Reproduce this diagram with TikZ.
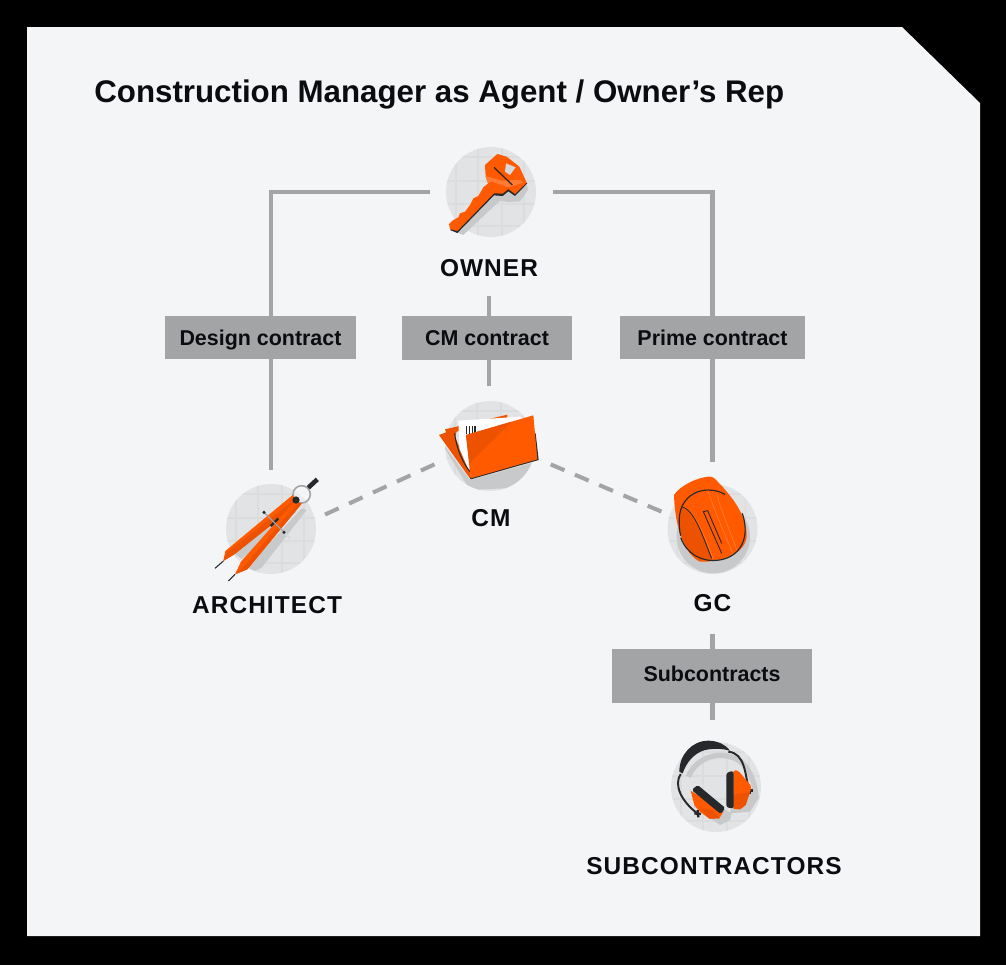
\documentclass[tikz,border=0pt]{standalone}
\usepackage{fontspec}
\setmainfont{Liberation Sans}
\newfontfamily\partyfont[LetterSpace=4.5]{Liberation Sans}
\definecolor{panel}{HTML}{F4F5F7}
\definecolor{ink}{HTML}{0B0C10}
\definecolor{wire}{HTML}{A3A4A6}
\definecolor{discfill}{HTML}{E2E3E5}
\definecolor{discgrid}{HTML}{DBDCDE}
\definecolor{castgray}{HTML}{C8C9CB}
\definecolor{safety}{HTML}{FF5A00}
\definecolor{safetydark}{HTML}{EC5200}
\definecolor{safetylight}{HTML}{FF7A33}
\definecolor{rim}{HTML}{26282B}
% disc with its faint grid, clipped to the circle
\newcommand{\griddisc}[1]{%
  \begin{scope}
    \clip (#1) circle (45);
    \foreach \dx in {-35,-13,11,33} \draw [discgrid,line width=.6pt] ([xshift=\dx*.02cm]#1.center) ++(0,-50) -- ++(0,100);
    \foreach \dy in {-35,-11,12,34} \draw [discgrid,line width=.6pt] ([yshift=-\dy*.02cm]#1.center) ++(-50,0) -- ++(100,0);
  \end{scope}}
\begin{document}
\begin{tikzpicture}[x=0.02cm,y=-0.02cm]
\tikzstyle{title}=[anchor=west,text=ink,inner sep=0pt,font=\fontsize{17.8}{20}\selectfont\bfseries];
\tikzstyle{party}=[text=ink,inner sep=0pt,outer sep=.38cm,font=\fontsize{13.9}{16}\selectfont\partyfont\bfseries];
\tikzstyle{contract}=[fill=wire,text=ink,inner sep=0pt,text height=8.7pt,text depth=0pt,font=\fontsize{12.2}{14}\selectfont\bfseries];
\tikzstyle{disc}=[circle,fill=discfill,minimum size=1.8cm,inner sep=0pt,outer sep=.22cm];
\tikzstyle{link}=[wire,line width=2.3pt];
\tikzstyle{agency}=[wire,line width=2.3pt,dash pattern=on 8.5pt off 6.5pt];
\useasboundingbox (0,0) rectangle (1006,965);
\fill [black] (0,0) rectangle (1006,965);
\fill [panel] (27,27) -- (902,27) -- (980,103) -- (980,936) -- (27,936) -- cycle;

\node [title] (heading) at (94,94) {Construction Manager as Agent / Owner’s Rep};

\node [disc] (owner) at (491,192) {};
\node [disc] (cm) at (490,446) {};
\node [disc] (architect) at (271,529) {};
\node [disc] (gc) at (712.5,529) {};
\node [disc] (subs) at (716,787) {};
\griddisc{owner}
\griddisc{cm}
\griddisc{architect}
\griddisc{gc}
\griddisc{subs}

\node [party] (ownerlabel) at (489,268) {OWNER};
\node [party] (cmlabel) at (491,518) {CM};
\node [party] (architectlabel) at (267,605) {ARCHITECT};
\node [party] (gclabel) at (712.5,603) {GC};
\node [party] (subslabel) at (714,866) {SUBCONTRACTORS};

\node [contract,minimum width=3.82cm,minimum height=.86cm] (design) at (260.5,337.5) {Design contract};
\node [contract,minimum width=3.4cm,minimum height=.88cm] (cmdeal) at (487,338) {CM contract};
\node [contract,minimum width=3.7cm,minimum height=.86cm] (prime) at (712.5,337.5) {Prime contract};
\node [contract,text depth=2.3pt,minimum width=4cm,minimum height=1.08cm] (subdeal) at (712,676) {Subcontracts};

\draw [link,shorten <=.1cm] (owner.west) -| (architect |- design.north);
\draw [link,shorten >=3*.02cm] (architect |- design.south) -- (architect.north);
\draw [link,shorten <=.12cm] (owner.east) -| (gc |- prime.north);
\draw [link,shorten >=.22cm] (gc |- prime.south) -- (gc.north);
\draw [link] (ownerlabel.south) -- (ownerlabel |- cmdeal.north);
\draw [link,shorten >=.08cm] (ownerlabel |- cmdeal.south) -- (ownerlabel |- cm.north);
\draw [link,shorten <=.06cm] (gclabel.south) -- (gclabel |- subdeal.north);
\draw [link,shorten >=.22cm] (gclabel |- subdeal.south) -- (gclabel |- subs.north);
\draw [agency] (architect.15.5) -- (cm.198);
\draw [agency,shorten <=.15cm,shorten >=-.08cm] (cm.-16) -- (gc.161);

% key
\begin{scope}[shift={(420,130)},scale=.3333]
\fill [castgray] (105,305) -- (130,315) -- (240,212) -- (265,216) -- (300,214) -- (325,178) -- (318,160) -- (230,190) -- cycle;
\fill [rim] (90,300) -- (112,309) -- (222,196) -- (248,198) -- (265,184) -- (285,198) -- (322,160) -- (300,150) -- (210,180) -- cycle;
\fill [safety] (87,282) -- (100,270) -- (115,262) -- (120,250) -- (135,245) -- (150,225) -- (160,205) -- (175,198) -- (190,172) -- (205,160) -- (197,140) -- (195,105) -- (232,72) -- (260,80) -- (298,110) -- (320,158) -- (285,192) -- (265,177) -- (248,191) -- (222,190) -- (112,303) -- (90,297) -- cycle;
\fill [safetylight] (197,138) -- (245,152) -- (302,150) -- (310,158) -- (265,172) -- (215,155) -- (203,160) -- cycle;
\fill [discfill!60!castgray] (258,100) -- (287,112) -- (270,135) -- (255,125) -- cycle;
\draw [rim,line width=.7pt] (222,112) -- (277,165);
\end{scope}

% folder
\begin{scope}[shift={(420,390)},scale=.3333]
\begin{scope}
\clip (cm) circle (135);
\fill [castgray] (60,150) -- (150,300) -- (350,290) -- (350,215) -- (150,270) -- cycle;
\end{scope}
\fill [safetydark] (57,135) -- (78,127) -- (75,118) -- (262,74) -- (262,82) -- (110,125) -- (105,140) -- (150,245) -- (152,268) -- cycle;
\fill [white] (115,92) -- (300,80) -- (322,105) -- (140,135) -- (148,245) -- (118,175) -- cycle;
\draw [rim,line width=.6pt] (104,130) .. controls (110,180) and (130,220) .. (150,245);
\foreach \tick in {140,149,157,165} \draw [rim,line width=.7pt] (\tick,108) -- (\tick,132);
\fill [rim] (152,268) -- (356,210) -- (347,130) -- (340,130) -- (346,205) -- (150,262) -- cycle;
\fill [safety] (138,135) -- (340,76) -- (352,208) -- (152,265) -- cycle;
\fill [safetydark] (138,135) -- (275,95) -- (148,220) -- cycle;
\end{scope}

% compass
\begin{scope}[shift={(200,465)},scale=.3333]
\begin{scope}
\clip (architect) circle (135);
\fill [castgray] (270,125) -- (290,140) -- (125,282) -- (100,262) -- cycle;
\fill [castgray] (305,130) -- (320,135) -- (185,308) -- (155,322) -- (140,310) -- cycle;
\end{scope}
\draw [discgrid!80!castgray,line width=1.2pt] (195,145) -- (270,220);
\draw [wire,line width=.9pt,fill=panel,fill opacity=.6] (305,88) circle (26);
\draw [rim,line width=2.6pt] (325,68) -- (352,43);
\fill [safety] (278,90) -- (294,116) -- (103,268) -- (70,288) -- (76,258) -- cycle;
\fill [safetydark] (294,116) -- (286,102) -- (78,265) -- (70,288) -- (103,268) -- cycle;
\fill [safety] (283,110) -- (305,116) -- (142,313) -- (105,328) -- (123,290) -- cycle;
\fill [safetydark] (305,116) -- (296,112) -- (125,312) -- (105,328) -- (142,313) -- cycle;
\draw [rim,line width=.6pt] (70,288) -- (45,310);
\draw [rim,line width=.6pt] (105,328) -- (85,348);
\fill [rim] (288,105) circle (11);
\draw [rim,line width=1.3pt] (212,183) -- (235,160);
\draw [wire,line width=.7pt] (192,142) -- (252,202);
\fill [rim] (192,142) circle (5);
\fill [rim] (252,202) circle (5);
\end{scope}

% helmet
\begin{scope}[shift={(650,465)},scale=.3333]
\begin{scope}
\clip (gc) circle (135);
\fill [castgray] (190,215) circle (110);
\end{scope}
\fill [safety] (72,90) .. controls (90,62) and (140,38) .. (175,35) .. controls (190,33) and (195,42) .. (205,52) .. controls (215,62) and (222,70) .. (230,80) .. controls (265,120) and (292,170) .. (290,215) .. controls (285,265) and (220,292) .. (150,290) .. controls (105,270) and (75,190) .. (72,90) -- cycle;
\fill [safetydark] (92,125) .. controls (135,150) and (165,225) .. (187,287) .. controls (130,287) and (95,240) .. (87,185) -- cycle;
\draw [safetylight,line width=.4pt] (100,125) .. controls (135,140) and (165,215) .. (190,283);
\draw [safetylight,line width=.4pt] (175,80) .. controls (190,130) and (230,220) .. (250,270);
\draw [safetylight,line width=.4pt] (200,85) .. controls (210,130) and (245,210) .. (262,260);
\draw [rim,line width=.65pt] (225,88) .. controls (165,55) and (80,85) .. (88,180) .. controls (88,190) and (90,205) .. (92,212);
\draw [rim,line width=.65pt] (92,218) .. controls (110,265) and (150,290) .. (200,286) .. controls (260,282) and (305,230) .. (277,145);
\draw [rim,line width=.5pt] (95,125) .. controls (135,135) and (160,220) .. (185,280);
\draw [rim,line width=.5pt] (215,265) -- (160,140) -- (173,137) -- (215,235);
\end{scope}

% headset
\begin{scope}[shift={(650,730)},scale=.3333]
\begin{scope}
\clip (subs) circle (135);
\draw [castgray,line width=3pt] (115,140) .. controls (140,80) and (210,60) .. (265,90) .. controls (295,110) and (315,150) .. (318,205);
\fill [castgray] (150,200) -- (245,250) -- (240,270) -- (210,285) -- (130,230) -- cycle;
\fill [castgray] (260,140) -- (328,200) -- (300,245) -- (240,250) -- cycle;
\end{scope}
\draw [rim,line width=1.1pt] (92,132) .. controls (70,165) and (95,215) .. (142,250);
\draw [rim,line width=1.1pt] (235,65) .. controls (285,70) and (285,130) .. (297,182);
\fill [rim] (88,125) .. controls (88,75) and (125,32) .. (175,32) .. controls (200,32) and (225,42) .. (240,62) .. controls (215,55) and (190,55) .. (165,60) .. controls (130,70) and (108,100) .. (98,130) -- cycle;
\draw [rim,line width=1.4pt] (133,250) -- (153,252);
\draw [rim,line width=1.4pt] (143,240) -- (145,262);
\draw [rim,line width=1.4pt] (288,182) -- (308,182);
\fill [rim] (298,172) rectangle (304,192);
\fill [safety] (122,182) -- (133,225) -- (150,245) -- (178,266) -- (208,265) -- (220,245) -- cycle;
\fill [safetydark] (150,235) -- (178,266) -- (208,265) -- (190,240) -- cycle;
\fill [rim,rounded corners=1pt] (143,165) -- (226,234) -- (212,252) -- (125,180) -- cycle;
\fill [safety,rounded corners=1pt] (250,120) -- (265,122) -- (305,170) -- (287,225) -- (270,238) -- (250,236) -- cycle;
\fill [safetydark] (250,195) -- (300,185) -- (287,225) -- (270,238) -- (250,236) -- cycle;
\fill [rim,rounded corners=1.5pt] (229,128) -- (251,122) -- (251,236) -- (229,232) -- cycle;
\end{scope}
\end{tikzpicture}
\end{document}
